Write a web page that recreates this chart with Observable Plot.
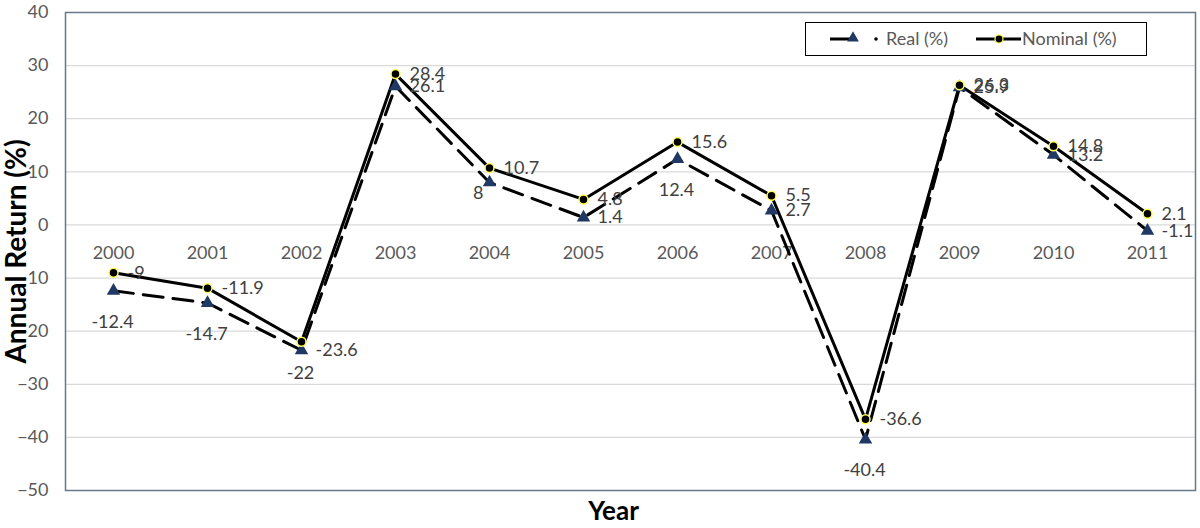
<!DOCTYPE html>
<html>
<head>
<meta charset="utf-8">
<script src="https://cdn.jsdelivr.net/npm/d3@7"></script>
<script src="https://cdn.jsdelivr.net/npm/@observablehq/plot@0.6"></script>
<style>
  html, body { margin: 0; padding: 0; background: #fff; }
  #wrap { position: relative; width: 1200px; height: 528px; }
  #legend {
    position: absolute; left: 805px; top: 22px; width: 340px; height: 32px;
    border: 1.5px solid #000; background: #fff; box-sizing: content-box;
    font-family: Lato, "Noto Sans", sans-serif; font-size: 18px; color: #595959;
  }
  #legend svg { position: absolute; left: 0; top: 0; }
</style>
</head>
<body>
<div id="wrap"></div>
<script>
const years = [2000, 2001, 2002, 2003, 2004, 2005, 2006, 2007, 2008, 2009, 2010, 2011];
const realReturns = [-12.4, -14.7, -23.6, 26.1, 8, 1.4, 12.4, 2.7, -40.4, 25.9, 13.2, -1.1];
const nominalReturns = [-9, -11.9, -22, 28.4, 10.7, 4.8, 15.6, 5.5, -36.6, 26.3, 14.8, 2.1];
const yTicks = [-50, -40, -30, -20, -10, 0, 10, 20, 30, 40];
const seriesNames = ["Real (%)", "Nominal (%)"];
// label placement per point (style, not data)
const realLabelPlacement = ["below", "below", "right", "right", "left", "right", "below", "right", "below", "right", "right", "right"];
const nominalLabelPlacement = ["right", "right", "below", "right", "right", "right", "right", "right", "right", "right", "right", "right"];

const realData = years.map((yr, i) => ({year: yr, value: realReturns[i], pos: realLabelPlacement[i]}));
const nominalData = years.map((yr, i) => ({year: yr, value: nominalReturns[i], pos: nominalLabelPlacement[i]}));

const placements = {
  right: {dx: 14, dy: 0, textAnchor: "start"},
  below: {dx: -1, dy: 31, textAnchor: "middle"},
  left: {dx: -6, dy: 11, textAnchor: "end"}
};
const labelMarks = (data) => Object.entries(placements).map(([p, o]) =>
  Plot.text(data.filter(d => d.pos === p), {
    x: "year", y: "value", text: d => String(d.value),
    dx: o.dx, dy: o.dy, textAnchor: o.textAnchor,
    fill: "#404040", fontSize: 18
  })
);

const font = 'Lato, "Noto Sans", sans-serif';

const chart = Plot.plot({
  width: 1200,
  height: 528,
  marginLeft: 65,
  marginRight: 5,
  marginTop: 12,
  marginBottom: 38,
  style: {fontFamily: font, background: "#fff", overflow: "visible"},
  x: {type: "point", domain: years, padding: 0.5, axis: null},
  y: {domain: [-50, 40], axis: null},
  marks: [
    Plot.ruleY(yTicks, {stroke: "#d9d9d9", strokeWidth: 1.2}),
    Plot.frame({stroke: "#66788a", strokeWidth: 1.5}),
    Plot.axisY(yTicks, {tickSize: 0, tickPadding: 17, fontSize: 18, fill: "#595959", label: null}),
    Plot.text(years, {x: d => d, y: () => 0, text: d => String(d), dy: 28, fontSize: 18, fill: "#595959"}),
    Plot.line(realData, {x: "year", y: "value", stroke: "#000", strokeWidth: 3, strokeDasharray: "20,10"}),
    Plot.line(nominalData, {x: "year", y: "value", stroke: "#000", strokeWidth: 3}),
    Plot.dot(realData, {x: "year", y: "value", symbol: "triangle", r: 5, fill: "#1f3864", stroke: "none"}),
    Plot.dot(nominalData, {x: "year", y: "value", symbol: "circle", r: 4.5, fill: "#000", stroke: "#ffff55", strokeWidth: 1.5}),
    ...labelMarks(realData),
    ...labelMarks(nominalData),
    Plot.text(["Annual Return (%)"], {frameAnchor: "left", textAnchor: "middle", rotate: -90, dx: -48, fontSize: 28, fontWeight: "bold", fill: "#000"}),
    Plot.text(["Year"], {frameAnchor: "bottom", textAnchor: "middle", dx: -17, dy: 21, fontSize: 26, fontWeight: "bold", fill: "#000", lineAnchor: "middle"})
  ]
});
const wrap = document.getElementById("wrap");
wrap.appendChild(chart);

// legend overlay (inside plot frame, top right)
const legend = document.createElement("div");
legend.id = "legend";
legend.innerHTML = `
<svg width="340" height="32">
  <line x1="24" y1="16" x2="46" y2="16" stroke="#000" stroke-width="3"/>
  <path d="${d3.symbol(d3.symbolTriangle, 60)()}" transform="translate(47,15)" fill="#1f3864"/>
  <circle cx="70" cy="16" r="1.8" fill="#000"/>
  <text x="80" y="22" font-family='${font}' font-size="18" fill="#595959">${seriesNames[0]}</text>
  <line x1="170" y1="16" x2="215" y2="16" stroke="#000" stroke-width="3"/>
  <circle cx="193" cy="16" r="4" fill="#000" stroke="#ffff55" stroke-width="1.2"/>
  <text x="216" y="22" font-family='${font}' font-size="18" fill="#595959">${seriesNames[1]}</text>
</svg>`;
wrap.appendChild(legend);
</script>
</body>
</html>
